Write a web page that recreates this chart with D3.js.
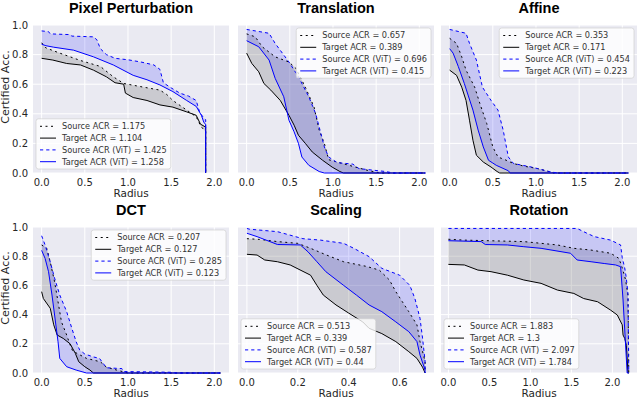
<!DOCTYPE html>
<html><head><meta charset="utf-8">
<script src="https://cdn.jsdelivr.net/npm/d3@7"></script>
<style>body{margin:0;background:#fff} svg{display:block}</style>
</head><body><svg id="c" width="640" height="399"></svg>
<script>
// ---------- DATA ----------
const panelTitles = ["Pixel Perturbation","Translation","Affine","DCT","Scaling","Rotation"];
const seriesNames = ["Source ACR","Target ACR","Source ACR (ViT)","Target ACR (ViT)"];
const yTicks = [0.0,0.2,0.4,0.6,0.8,1.0];
const radiusTicks = [0.0,0.5,1.0,1.5,2.0];
const scalingTicks = [0.0,0.2,0.4,0.6];

const pixelACR = ["1.175","1.104","1.425","1.258"];
const translationACR = ["0.657","0.389","0.696","0.415"];
const affineACR = ["0.353","0.171","0.454","0.223"];
const dctACR = ["0.207","0.127","0.285","0.123"];
const scalingACR = ["0.513","0.339","0.587","0.44"];
const rotationACR = ["1.883","1.3","2.097","1.784"];

// [radius, certified accuracy]
const pixelSource = [[0,0.88],[0.05,0.845],[0.21,0.81],[0.45,0.76],[0.68,0.72],[0.83,0.65],[0.95,0.605],[1.18,0.58],[1.37,0.56],[1.45,0.53],[1.52,0.49],[1.68,0.425],[1.79,0.38],[1.84,0.32],[1.88,0.29],[1.9,0.28],[1.9,0]];
const pixelTarget = [[0,0.775],[0.13,0.763],[0.29,0.74],[0.45,0.73],[0.6,0.695],[0.75,0.65],[0.85,0.61],[0.95,0.6],[0.97,0.54],[1.06,0.51],[1.22,0.49],[1.37,0.46],[1.52,0.445],[1.68,0.413],[1.79,0.39],[1.84,0.33],[1.9,0.31],[1.9,0]];
const pixelSourceVit = [[0,0.96],[0.08,0.955],[0.1,0.94],[0.33,0.935],[0.35,0.925],[0.6,0.92],[0.64,0.9],[0.68,0.84],[0.75,0.8],[0.85,0.775],[1.0,0.765],[1.15,0.75],[1.3,0.73],[1.37,0.7],[1.41,0.61],[1.5,0.575],[1.6,0.54],[1.7,0.52],[1.79,0.49],[1.83,0.41],[1.88,0.37],[1.9,0.36],[1.9,0]];
const pixelTargetVit = [[0,0.87],[0.05,0.86],[0.14,0.85],[0.37,0.83],[0.6,0.785],[0.83,0.73],[1.06,0.66],[1.22,0.63],[1.37,0.595],[1.52,0.55],[1.68,0.49],[1.79,0.45],[1.85,0.39],[1.88,0.34],[1.9,0.33],[1.9,0]];

const translationSource = [[0,0.94],[0.1,0.92],[0.18,0.853],[0.33,0.785],[0.49,0.75],[0.57,0.707],[0.68,0.58],[0.78,0.447],[0.84,0.29],[0.9,0.2],[0.95,0.09],[1.11,0.064],[1.26,0.04],[1.42,0.015],[1.55,0],[2.07,0]];
const translationTarget = [[0,0.81],[0.06,0.74],[0.14,0.684],[0.2,0.605],[0.28,0.56],[0.39,0.49],[0.49,0.39],[0.55,0.323],[0.6,0.255],[0.68,0.2],[0.76,0.142],[0.88,0.086],[0.99,0.04],[1.08,0.01],[1.12,0],[2.07,0]];
const translationSourceVit = [[0,0.97],[0.1,0.96],[0.26,0.944],[0.33,0.876],[0.49,0.75],[0.6,0.65],[0.72,0.515],[0.8,0.4],[0.86,0.267],[0.9,0.176],[0.95,0.108],[1.05,0.07],[1.23,0.06],[1.3,0.03],[1.45,0.02],[1.61,0.01],[1.7,0],[2.07,0]];
const translationTargetVit = [[0,0.894],[0.14,0.853],[0.26,0.763],[0.33,0.64],[0.43,0.515],[0.49,0.357],[0.55,0.278],[0.6,0.2],[0.64,0.108],[0.72,0.052],[0.84,0.01],[0.9,0],[2.07,0]];

const affineSource = [[0,0.91],[0.08,0.876],[0.14,0.785],[0.19,0.695],[0.29,0.58],[0.35,0.47],[0.43,0.334],[0.5,0.176],[0.56,0.108],[0.64,0.09],[0.74,0.064],[0.87,0.045],[1.02,0.03],[1.18,0.005],[1.2,0],[2.07,0]];
const affineTarget = [[0,0.695],[0.08,0.66],[0.14,0.58],[0.19,0.49],[0.23,0.357],[0.27,0.221],[0.31,0.12],[0.39,0.074],[0.48,0.04],[0.55,0.01],[0.58,0],[2.07,0]];
const affineSourceVit = [[0,0.97],[0.19,0.944],[0.23,0.876],[0.31,0.763],[0.38,0.58],[0.48,0.49],[0.56,0.425],[0.62,0.29],[0.68,0.108],[0.74,0.064],[0.95,0.04],[1.15,0.01],[1.25,0],[2.07,0]];
const affineTargetVit = [[0,0.84],[0.04,0.81],[0.1,0.72],[0.17,0.605],[0.27,0.425],[0.33,0.29],[0.39,0.176],[0.45,0.086],[0.54,0.052],[0.68,0.015],[0.7,0],[2.07,0]];

const dctSource = [[0,0.877],[0.06,0.854],[0.1,0.76],[0.15,0.625],[0.19,0.488],[0.23,0.35],[0.29,0.26],[0.33,0.192],[0.36,0.15],[0.52,0.1],[0.68,0.077],[0.75,0.04],[0.87,0.02],[1.0,0],[2.07,0]];
const dctTarget = [[0,0.557],[0.02,0.51],[0.1,0.443],[0.14,0.33],[0.18,0.26],[0.25,0.237],[0.33,0.2],[0.39,0.135],[0.43,0.077],[0.5,0.043],[0.56,0.02],[0.6,0],[2.07,0]];
const dctSourceVit = [[0,0.94],[0.04,0.877],[0.1,0.76],[0.15,0.65],[0.21,0.534],[0.29,0.42],[0.35,0.306],[0.4,0.214],[0.44,0.158],[0.5,0.13],[0.6,0.11],[0.67,0.1],[0.75,0.036],[0.93,0.03],[0.95,0.01],[1.5,0.005],[1.55,0],[2.07,0]];
const dctTargetVit = [[0,0.84],[0.04,0.785],[0.08,0.694],[0.12,0.534],[0.15,0.397],[0.19,0.214],[0.21,0.1],[0.29,0.043],[0.4,0.02],[0.52,0],[2.07,0]];

const scalingSource = [[0,0.92],[0.05,0.915],[0.12,0.9],[0.2,0.888],[0.25,0.854],[0.31,0.81],[0.38,0.762],[0.47,0.73],[0.52,0.705],[0.56,0.637],[0.585,0.557],[0.61,0.49],[0.636,0.42],[0.668,0.33],[0.68,0.215],[0.7,0.08],[0.7,0]];
const scalingTarget = [[0,0.813],[0.04,0.808],[0.07,0.774],[0.12,0.762],[0.17,0.74],[0.25,0.67],[0.275,0.6],[0.3,0.534],[0.35,0.466],[0.4,0.41],[0.455,0.35],[0.48,0.306],[0.53,0.27],[0.585,0.215],[0.636,0.146],[0.668,0.1],[0.69,0.04],[0.7,0]];
const scalingSourceVit = [[0,0.99],[0.01,0.985],[0.12,0.968],[0.22,0.92],[0.29,0.91],[0.38,0.888],[0.42,0.854],[0.48,0.797],[0.53,0.717],[0.6,0.67],[0.64,0.6],[0.66,0.51],[0.68,0.375],[0.69,0.24],[0.7,0.08],[0.7,0]];
const scalingTargetVit = [[0,0.957],[0.04,0.934],[0.12,0.88],[0.21,0.877],[0.24,0.83],[0.275,0.762],[0.31,0.694],[0.38,0.6],[0.43,0.534],[0.48,0.466],[0.53,0.42],[0.585,0.35],[0.636,0.283],[0.668,0.215],[0.68,0.123],[0.7,0.02],[0.7,0]];

const rotationSource = [[0,0.916],[0.2,0.91],[0.92,0.9],[1.33,0.877],[1.53,0.854],[1.74,0.842],[1.98,0.82],[2.08,0.785],[2.12,0.72],[2.16,0.64],[2.19,0.534],[2.2,0]];
const rotationTarget = [[0,0.744],[0.195,0.74],[0.36,0.705],[0.52,0.694],[0.72,0.67],[0.92,0.637],[1.13,0.614],[1.33,0.568],[1.53,0.545],[1.65,0.51],[1.82,0.488],[1.98,0.43],[2.06,0.397],[2.12,0.33],[2.13,0.26],[2.15,0.237],[2.17,0.19],[2.19,0],[2.2,0]];
const rotationSourceVit = [[0,0.99],[1.57,0.99],[1.69,0.957],[1.78,0.934],[1.98,0.91],[2.1,0.877],[2.12,0.79],[2.15,0.72],[2.17,0.65],[2.19,0.54],[2.2,0]];
const rotationTargetVit = [[0,0.906],[0.4,0.9],[0.45,0.88],[0.72,0.877],[0.92,0.865],[1.13,0.854],[1.49,0.82],[1.57,0.774],[1.74,0.762],[1.9,0.75],[2.04,0.74],[2.1,0.728],[2.13,0.5],[2.18,0],[2.2,0]];

// ---------- LAYOUT ----------
const colLeft = [33, 238, 441];
const plotW = 196;
const rowTop = [25, 227], rowBottom = [173, 373];

const panels = [
  {data:[pixelSource,pixelTarget,pixelSourceVit,pixelTargetVit], acr:pixelACR, dom:[-0.1,2.17], ticks:radiusTicks, leg:"ll"},
  {data:[translationSource,translationTarget,translationSourceVit,translationTargetVit], acr:translationACR, dom:[-0.1,2.17], ticks:radiusTicks, leg:"ur"},
  {data:[affineSource,affineTarget,affineSourceVit,affineTargetVit], acr:affineACR, dom:[-0.1,2.17], ticks:radiusTicks, leg:"ur"},
  {data:[dctSource,dctTarget,dctSourceVit,dctTargetVit], acr:dctACR, dom:[-0.1,2.17], ticks:radiusTicks, leg:"ur"},
  {data:[scalingSource,scalingTarget,scalingSourceVit,scalingTargetVit], acr:scalingACR, dom:[-0.035,0.735], ticks:scalingTicks, leg:"ll"},
  {data:[rotationSource,rotationTarget,rotationSourceVit,rotationTargetVit], acr:rotationACR, dom:[-0.09,2.3], ticks:radiusTicks, leg:"ll"}
];

const styles = [
  {color:"#000", dash:"2,3.5"},
  {color:"#000", dash:null},
  {color:"#0000ff", dash:"3.2,3"},
  {color:"#0000ff", dash:null}
];

const svg = d3.select("#c");
const tickFont = "DejaVu Sans, sans-serif";
const txtColor = "#262626";

panels.forEach((p, i) => {
  const row = Math.floor(i/3), col = i%3;
  const x0 = colLeft[col], x1 = x0 + plotW, y0 = rowTop[row], y1 = rowBottom[row];
  const x = d3.scaleLinear().domain(p.dom).range([x0, x1]);
  const y = d3.scaleLinear().domain([0,1]).range([y1, y0]);
  const g = svg.append("g");

  g.append("rect").attr("x",x0).attr("y",y0).attr("width",plotW).attr("height",y1-y0).attr("fill","#EAEAF2");

  // grid
  g.selectAll(".gx").data(p.ticks).enter().append("line")
    .attr("x1",d=>x(d)).attr("x2",d=>x(d)).attr("y1",y0).attr("y2",y1)
    .attr("stroke","#fff").attr("stroke-width",1);
  g.selectAll(".gy").data(yTicks).enter().append("line")
    .attr("x1",x0).attr("x2",x1).attr("y1",d=>y(d)).attr("y2",d=>y(d))
    .attr("stroke","#fff").attr("stroke-width",1);

  const clipId = "clip"+i;
  svg.append("clipPath").attr("id",clipId).append("rect")
    .attr("x",x0).attr("y",y0-1).attr("width",plotW).attr("height",y1-y0+2);
  const pg = g.append("g").attr("clip-path",`url(#${clipId})`);

  const line = d3.line().x(d=>x(d[0])).y(d=>y(d[1]));
  // fills
  const grayPoly = p.data[0].concat(p.data[1].slice().reverse());
  pg.append("path").attr("d", line(grayPoly)+"Z").attr("fill","gray").attr("fill-opacity",0.3);
  const bluePoly = p.data[2].concat(p.data[3].slice().reverse());
  pg.append("path").attr("d", line(bluePoly)+"Z").attr("fill","blue").attr("fill-opacity",0.15);

  // lines
  [1,0,3,2].forEach(k => {
    pg.append("path").attr("d", line(p.data[k])).attr("fill","none")
      .attr("stroke", styles[k].color).attr("stroke-width",1)
      .attr("stroke-dasharray", styles[k].dash);
  });

  // x tick labels
  g.selectAll(".xt").data(p.ticks).enter().append("text")
    .attr("x",d=>x(d)).attr("y",y1+12.5).attr("text-anchor","middle")
    .attr("font-family",tickFont).attr("font-size",10).attr("fill",txtColor)
    .text(d=>d3.format(".1f")(d));
  // y tick labels
  if (col === 0) {
    g.selectAll(".yt").data(yTicks).enter().append("text")
      .attr("x",x0-5).attr("y",d=>y(d)+3.6).attr("text-anchor","end")
      .attr("font-family",tickFont).attr("font-size",10).attr("fill",txtColor)
      .text(d=>d3.format(".1f")(d));
    g.append("text").attr("transform",`translate(${9},${(y0+y1)/2 - 12}) rotate(-90)`)
      .attr("text-anchor","middle").attr("font-family",tickFont).attr("font-size",11)
      .attr("fill",txtColor).text("Certified Acc.");
  }
  // x label
  g.append("text").attr("x",(x0+x1)/2).attr("y",y1+23.5).attr("text-anchor","middle")
    .attr("font-family",tickFont).attr("font-size",10.5).attr("fill",txtColor).text("Radius");
  // title
  g.append("text").attr("x",(x0+x1)/2).attr("y",y0-12).attr("text-anchor","middle")
    .attr("font-family","Liberation Sans, Arial, sans-serif").attr("font-weight","bold")
    .attr("font-size",14.5).attr("fill","#000").text(panelTitles[i]);

  // legend
  const lg = g.append("g");
  const box = lg.append("rect");
  const rowH = 11.8, fs = 8.2;
  let maxW = 0;
  const texts = seriesNames.map((n,k) => {
    const t = lg.append("text").attr("font-family",tickFont).attr("font-size",fs)
      .attr("fill","#333").text(`${n} = ${p.acr[k]}`);
    maxW = Math.max(maxW, t.node().getComputedTextLength());
    return t;
  });
  const bw = 4 + 16 + 6 + maxW + 4, bh = 4*rowH + 3;
  let bx, by;
  if (p.leg === "ll") { bx = x0 + 3; by = y1 - 4 - bh; }
  else { bx = x1 - 3 - bw; by = y0 + 3; }
  box.attr("x",bx).attr("y",by).attr("width",bw).attr("height",bh).attr("rx",2.5)
    .attr("fill","#fff").attr("fill-opacity",0.8).attr("stroke","#cccccc").attr("stroke-opacity",0.8).attr("stroke-width",0.8);
  texts.forEach((t,k) => {
    const cy = by + 7.5 + k*rowH;
    lg.append("line").attr("x1",bx+4).attr("x2",bx+20).attr("y1",cy).attr("y2",cy)
      .attr("stroke",styles[k].color).attr("stroke-width",1).attr("stroke-dasharray",styles[k].dash);
    t.attr("x",bx+26).attr("y",cy+2.9);
  });
});
</script>
</body></html>
